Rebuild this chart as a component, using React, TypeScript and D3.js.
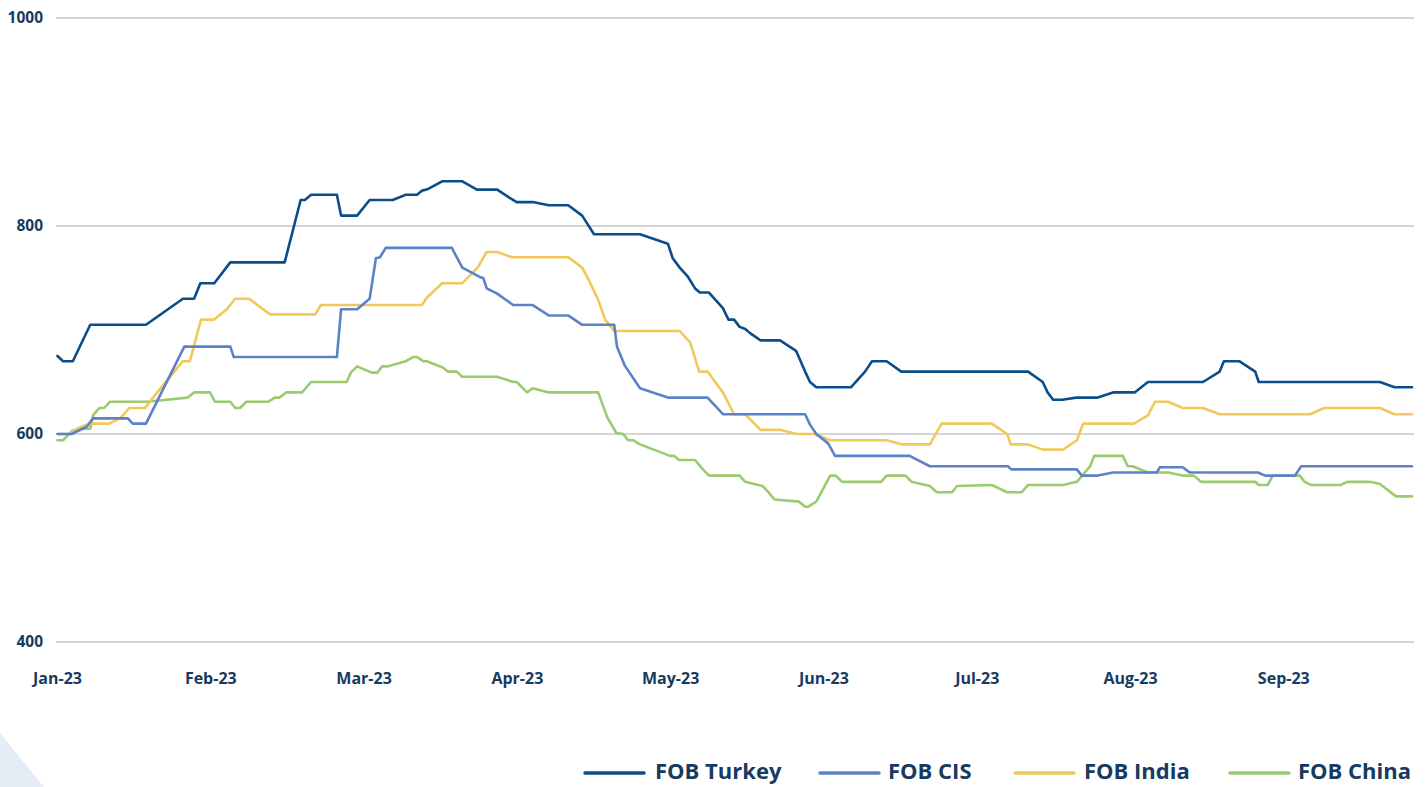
import React from "react";
import * as d3 from "d3";

// x = position index along the axis (22 steps per month label), y = price
const monthLabels = ["Jan-23", "Feb-23", "Mar-23", "Apr-23", "May-23", "Jun-23", "Jul-23", "Aug-23", "Sep-23"];
const yTicks = [400, 600, 800, 1000];
const seriesNames = ["FOB Turkey", "FOB CIS", "FOB India", "FOB China"];
const seriesColors = ["#0b4d8a", "#5b82c6", "#f0c95a", "#9acb6f"];

const turkey: [number, number][] = [
  [0, 675], [0.8, 670], [2.2, 670], [4.7, 705], [12.7, 705], [18, 730], [19.6, 730], [20.5, 745], [22.5, 745],
  [24.8, 765], [32.6, 765], [34.9, 825], [35.5, 825], [36.4, 830], [40.1, 830], [40.7, 810], [43, 810], [44.8, 825],
  [48.1, 825], [50, 830], [51.6, 830], [52.3, 834], [53, 835], [55.2, 843], [58.1, 843], [60.2, 835], [63.1, 835],
  [64.9, 827], [65.9, 823], [68.2, 823], [70.5, 820], [73.3, 820], [75.3, 810], [77, 792], [83.6, 792], [87.6, 783],
  [88.3, 769], [89.3, 760], [90.5, 751], [91.5, 740], [92.2, 736], [93.5, 736], [95.5, 721], [96.3, 710], [97.1, 710],
  [97.9, 703], [98.7, 701], [99.4, 697], [100.9, 690], [103.7, 690], [106, 680], [107.3, 660], [108, 650], [108.9, 645],
  [113.9, 645], [115.9, 660], [116.9, 670], [119, 670], [121.1, 660], [139.3, 660], [141.4, 650], [142.1, 640],
  [142.9, 633], [144.2, 633], [146.2, 635], [149.3, 635], [151.5, 640], [154.6, 640], [156.5, 650], [164.4, 650],
  [166.8, 660], [167.4, 670], [169.6, 670], [171.9, 660], [172.4, 650], [189.8, 650], [191.9, 645], [194.4, 645],
];

const cis: [number, number][] = [
  [0, 600], [2, 600], [4.2, 607], [5.1, 615], [10.1, 615], [10.8, 610], [12.7, 610], [18.2, 684], [24.8, 684],
  [25.3, 674], [40.1, 674], [40.7, 720], [43, 720], [44.8, 730], [45.7, 769], [46.3, 770], [47.1, 779], [56.6, 779],
  [57.3, 770], [58.1, 760], [60.6, 751], [61.1, 750], [61.6, 740], [63.1, 735], [65.4, 724], [68.2, 724], [70.5, 714],
  [73.3, 714], [75.3, 705], [79.9, 705], [80.3, 684], [81.4, 666], [83.6, 644], [87.6, 635], [93.3, 635], [95.5, 619],
  [107.3, 619], [108, 609], [108.9, 600], [110.6, 591], [111.6, 579], [122.3, 579], [125.2, 569], [136.4, 569],
  [136.9, 566], [146.3, 566], [147, 560], [149.3, 560], [151.5, 563], [157.8, 563], [158.2, 568], [161.5, 568],
  [162.5, 563], [172.3, 563], [173.3, 560], [177.6, 560], [178.5, 569], [194.4, 569],
];

const india: [number, number][] = [
  [0, 600], [1.8, 600], [2.8, 605], [4.5, 610], [7.4, 610], [9, 615], [10.3, 625], [12.6, 625], [13.7, 635], [18, 670],
  [19, 670], [20.6, 710], [22.5, 710], [24.3, 720], [25.5, 730], [27.5, 730], [29.5, 720], [30.5, 715], [37, 715],
  [37.8, 724], [52.3, 724], [53, 731], [55.2, 745], [58.1, 745], [60.3, 760], [61.6, 775], [63.1, 775], [65.2, 770],
  [73.3, 770], [75.3, 760], [76.4, 746], [77.6, 729], [78.6, 710], [79.9, 699], [89.3, 699], [90.8, 688], [92.1, 660],
  [93.3, 660], [95.5, 640], [97.1, 619], [98.7, 619], [100.9, 604], [103.7, 604], [106.1, 600], [108.7, 600],
  [110.9, 594], [119, 594], [121.2, 590], [125.2, 590], [126.9, 610], [134.1, 610], [136.3, 600], [136.8, 590],
  [139.3, 590], [141.4, 585], [144.3, 585], [146.3, 594], [147.2, 610], [154.5, 610], [156.5, 618], [157.5, 631],
  [159.4, 631], [161.5, 625], [164.4, 625], [166.8, 619], [179.8, 619], [181.8, 625], [189.8, 625], [191.9, 619],
  [194.4, 619],
];

const china: [number, number][] = [
  [0, 594], [0.8, 594], [2.1, 603], [3.5, 605], [4.7, 605], [5.1, 618], [6, 625], [6.7, 625], [7.5, 631], [12.8, 631],
  [18.7, 635], [19.6, 640], [21.9, 640], [22.6, 631], [24.8, 631], [25.5, 625], [26.2, 625], [27.1, 631], [30.2, 631],
  [31.2, 635], [31.9, 635], [32.8, 640], [35.1, 640], [36.4, 650], [41.5, 650], [42.1, 659], [43, 665], [45.1, 659],
  [45.9, 659], [46.6, 665], [47.3, 665], [50, 670], [51, 674], [51.6, 674], [52.5, 670], [53, 670], [55.3, 664],
  [56, 660], [57.3, 660], [58.1, 655], [63.1, 655], [65.4, 650], [65.9, 650], [67.4, 640], [68.2, 644], [70.5, 640],
  [77.6, 640], [78.9, 616], [80.2, 601], [81.2, 600], [81.9, 594], [82.6, 594], [83.6, 590], [87.9, 579], [88.5, 579],
  [89.2, 575], [91.5, 575], [92.5, 567], [93.5, 560], [97.9, 560], [98.7, 554], [101.2, 550], [101.9, 545],
  [102.9, 537], [106.4, 535], [107.3, 530], [107.7, 530], [108.9, 535], [110.9, 560], [111.7, 560], [112.6, 554],
  [118.2, 554], [119, 560], [121.7, 560], [122.6, 554], [125.2, 550], [126.2, 544], [128.4, 544], [129.1, 550],
  [134.1, 551], [136.3, 544], [138.4, 544], [139.3, 551], [144.3, 551], [146.3, 554], [148.2, 569], [148.8, 579],
  [152.9, 579], [153.6, 569], [154.3, 569], [156.5, 563], [159.4, 563], [161.5, 560], [163.1, 560], [164.1, 554],
  [171.9, 554], [172.4, 551], [173.7, 551], [174.4, 560], [178.3, 560], [179, 554], [179.9, 551], [184.2, 551],
  [185.1, 554], [188.4, 554], [189.8, 552], [192.1, 540], [194.4, 540],
];

const allSeries = [turkey, cis, india, china];
const STEPS_PER_MONTH = 22;

export default function App() {
  const W = 1428;
  const H = 787;
  const x = d3.scaleLinear().domain([0, 194.4]).range([57.5, 1412]);
  const y = d3.scaleLinear().domain([400, 1000]).range([642, 18]);
  const line = d3
    .line<[number, number]>()
    .x((d) => x(d[0]))
    .y((d) => y(d[1]));
  const textColor = "#173a60";
  const font = "'Open Sans', 'DejaVu Sans', sans-serif";

  const legendItems = [
    { lx: 585, tx: 655 },
    { lx: 820, tx: 888 },
    { lx: 1015, tx: 1084 },
    { lx: 1230, tx: 1298 },
  ];

  return (
    <svg
      width={W}
      height={H}
      style={{ position: "absolute", left: 0, top: 0, display: "block", background: "#fff" }}
      fontFamily={font}
    >
      <polygon points="0,733 44,787 0,787" fill="#e4ecf6" />
      {yTicks.map((t) => (
        <g key={t}>
          <line x1={56} x2={1414} y1={y(t)} y2={y(t)} stroke="#c6c6c6" strokeWidth={1.3} />
          <text
            x={43}
            y={y(t)}
            dy="0.35em"
            textAnchor="end"
            fontSize={15.5}
            fontWeight={700}
            fill={textColor}
          >
            {t}
          </text>
        </g>
      ))}
      {monthLabels.map((m, i) => (
        <text
          key={m}
          x={x(i * STEPS_PER_MONTH)}
          y={678}
          dy="0.35em"
          textAnchor="middle"
          fontSize={16}
          fontWeight={700}
          fill={textColor}
        >
          {m}
        </text>
      ))}
      {[3, 2, 1, 0].map((i) => (
        <path
          key={seriesNames[i]}
          d={line(allSeries[i]) || ""}
          fill="none"
          stroke={seriesColors[i]}
          strokeWidth={2.6}
          strokeLinejoin="round"
          strokeLinecap="round"
        />
      ))}
      {seriesNames.map((n, i) => (
        <g key={n}>
          <line
            x1={legendItems[i].lx}
            x2={legendItems[i].lx + 59}
            y1={773}
            y2={773}
            stroke={seriesColors[i]}
            strokeWidth={3.5}
            strokeLinecap="round"
          />
          <text
            x={legendItems[i].tx}
            y={771}
            dy="0.36em"
            fontSize={22}
            fontWeight={700}
            fill={textColor}
          >
            {n}
          </text>
        </g>
      ))}
    </svg>
  );
}
